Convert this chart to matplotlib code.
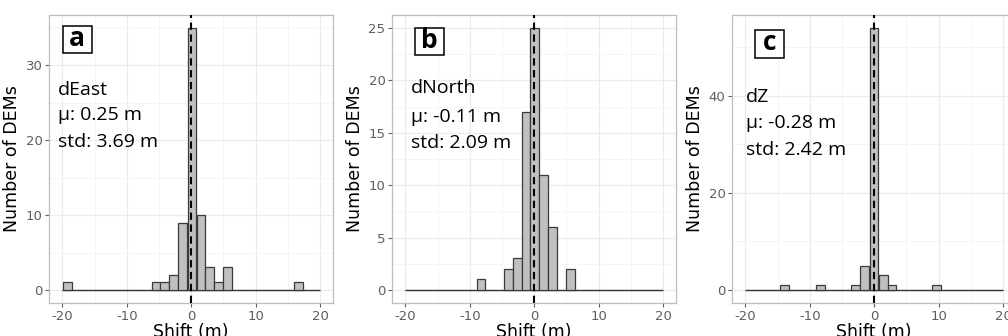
import matplotlib
matplotlib.use("Agg")
import matplotlib.pyplot as plt
from matplotlib.patches import Rectangle
from matplotlib.ticker import MultipleLocator

# histogram bins (bin centre, count); bin width ~1.37 m
bin_width = 1.37

east_centers = [-19.2, -5.45, -4.08, -2.7, -1.3, 0.12, 1.52, 2.87, 4.22, 5.58, 16.68]
east_counts = [1, 1, 1, 2, 9, 35, 10, 3, 1, 3, 1]

north_centers = [-8.25, -4.05, -2.65, -1.27, 0.1, 1.45, 2.82, 5.65]
north_counts = [1, 2, 3, 17, 25, 11, 6, 2]

z_centers = [-13.87, -8.3, -2.85, -1.45, -0.03, 1.39, 2.76, 9.67]
z_counts = [1, 1, 1, 5, 54, 3, 1, 1]

panel_letters = ["a", "b", "c"]
components = ["dEast", "dNorth", "dZ"]
means = [0.25, -0.11, -0.28]
stds = [3.69, 2.09, 2.42]

y_major = [10, 5, 20]

fig = plt.figure(figsize=(10.08, 3.36), dpi=100)

ax_left = [0.049, 0.3893, 0.7266]
ax_w = 0.2813
ax_b = 33 / 336
ax_h = 288 / 336

# box centre (axes fractions), text left x and line centres
box_pos = [(0.098, 0.915), (0.130, 0.908), (0.132, 0.899)]
txt_pos = [(0.031, [0.74, 0.653, 0.56]),
           (0.066, [0.747, 0.646, 0.556]),
           (0.048, [0.715, 0.625, 0.531])]
box_w, box_h = 0.102, 0.097

data = [(east_centers, east_counts), (north_centers, north_counts), (z_centers, z_counts)]

grid_major = "#EBEBEB"
grid_minor = "#F4F4F4"
tick_col = "#5E5E5E"

for i, (centers, counts) in enumerate(data):
    ax = fig.add_axes([ax_left[i], ax_b, ax_w, ax_h])
    top = max(counts)
    ax.set_xlim(-22, 22)
    ax.set_ylim(-0.05 * top, 1.05 * top)

    ax.xaxis.set_major_locator(MultipleLocator(10))
    ax.xaxis.set_minor_locator(MultipleLocator(5))
    ax.yaxis.set_major_locator(MultipleLocator(y_major[i]))
    ax.yaxis.set_minor_locator(MultipleLocator(y_major[i] / 2))
    ax.grid(which="major", color=grid_major, lw=0.9)
    ax.grid(which="minor", color=grid_minor, lw=0.6)
    ax.set_axisbelow(True)

    ax.hlines(0, -20, 20, color="#333333", lw=1.0, zorder=2)
    ax.bar(centers, counts, width=bin_width, color="#C0C0C0",
           edgecolor="#3A3A3A", linewidth=0.9, zorder=3)
    ax.axvline(0, color="black", lw=1.5, ls=(0, (3.5, 2.2)), zorder=4)

    for s in ax.spines.values():
        s.set_color("#BDBDBD")
        s.set_linewidth(0.9)
    ax.tick_params(which="major", colors=tick_col, labelsize=9.5, length=3, width=0.8, pad=2)
    ax.tick_params(which="minor", length=0)
    ax.set_xticks([-20, -10, 0, 10, 20])
    ax.set_xticklabels(["-20", "-10", "0", "10", "20"])

    ax.set_xlabel("Shift (m)", fontsize=12.5, labelpad=0)
    ax.set_ylabel("Number of DEMs", fontsize=12.5, labelpad=3)

    bx, by = box_pos[i]
    ax.add_patch(Rectangle((bx - box_w / 2, by - box_h / 2), box_w, box_h,
                           transform=ax.transAxes, fc="white", ec="black",
                           lw=1.1, zorder=5))
    ax.text(bx, by + 0.005, panel_letters[i], transform=ax.transAxes, fontsize=19,
            fontweight="bold", family="Open Sans", ha="center", va="center",
            zorder=6)

    tx, ys = txt_pos[i]
    lines = [components[i], "\u00b5: %.2f m" % means[i], "std: %.2f m" % stds[i]]
    for line, ty in zip(lines, ys):
        ax.text(tx, ty, line, transform=ax.transAxes, fontsize=14,
                family="Open Sans", ha="left", va="center", zorder=5)

fig.savefig("out.png", dpi=100)
